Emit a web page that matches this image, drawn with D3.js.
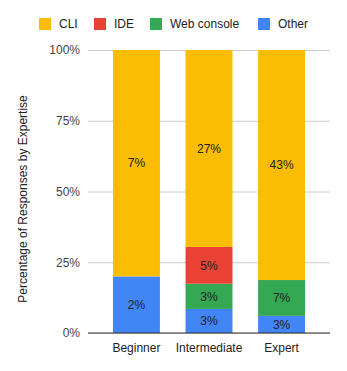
<!DOCTYPE html>
<html><head><meta charset="utf-8">
<script src="https://cdn.jsdelivr.net/npm/d3@7"></script>
<style>body{margin:0;background:#fff;}svg{display:block;font-family:"Liberation Sans",Arial,sans-serif;}</style>
</head><body>
<script>
const categories = ["Beginner", "Intermediate", "Expert"];
const seriesNames = ["CLI", "IDE", "Web console", "Other"];
const seriesColors = ["#FBBC04", "#EA4335", "#34A853", "#4285F4"];
const cliValues = [7.2, 27.0, 43.0];
const ideValues = [0, 5.05, 0];
const webValues = [0, 3.45, 6.7];
const otherValues = [1.8, 3.3, 3.2];
const yTicks = [0, 0.25, 0.5, 0.75, 1];

const W = 347, H = 371;
const m = {left: 88, right: 17, top: 50, bottom: 38};
const svg = d3.select("body").append("svg").attr("width", W).attr("height", H);

const rows = categories.map((c, i) => ({cat: c, "CLI": cliValues[i], "IDE": ideValues[i], "Web console": webValues[i], "Other": otherValues[i]}));
const stackOrder = ["Other", "Web console", "IDE", "CLI"];
const stack = d3.stack().keys(stackOrder).offset(d3.stackOffsetExpand);
const layers = stack(rows);

const x = d3.scaleBand().domain(categories).range([m.left, W - m.right]).paddingInner(0.353).paddingOuter(0.344);
const y = d3.scaleLinear().domain([0, 1]).range([H - m.bottom, m.top]);
const color = d3.scaleOrdinal().domain(seriesNames).range(seriesColors);

// grid
const yAxis = d3.axisLeft(y).tickValues(yTicks).tickFormat(d3.format(".0%")).tickSize(-(W - m.right - m.left)).tickPadding(8);
const ga = svg.append("g").attr("transform", `translate(${m.left},0)`).call(yAxis);
ga.select(".domain").remove();
ga.selectAll(".tick line").attr("stroke", "#cccccc");
ga.selectAll(".tick text").attr("fill", "#444").style("font-size", "12px");

// bars
layers.forEach(layer => {
  const g = svg.append("g").attr("fill", color(layer.key));
  g.selectAll("rect").data(layer.filter(d => d[1] - d[0] > 0)).join("rect")
    .attr("x", d => x(d.data.cat)).attr("width", x.bandwidth())
    .attr("y", d => y(d[1])).attr("height", d => y(d[0]) - y(d[1]));
  svg.append("g").selectAll("text").data(layer.filter(d => d[1] - d[0] > 0)).join("text")
    .attr("x", d => x(d.data.cat) + x.bandwidth() / 2)
    .attr("y", d => (y(d[0]) + y(d[1])) / 2)
    .attr("dy", "0.35em").attr("text-anchor", "middle")
    .attr("fill", "#222").style("font-size", "12px")
    .text(d => Math.round(d.data[layer.key]) + "%");
});

// baseline
svg.append("line").attr("x1", m.left).attr("x2", W - m.right).attr("y1", y(0)).attr("y2", y(0)).attr("stroke", "#333").attr("stroke-width", 1);

// x axis labels
const xa = d3.axisBottom(x).tickSize(0).tickPadding(10);
const gx = svg.append("g").attr("transform", `translate(0,${y(0)})`).call(xa);
gx.select(".domain").remove();
gx.selectAll(".tick text").attr("fill", "#222").style("font-size", "12px");

// y title
svg.append("text").attr("transform", `translate(27,199) rotate(-90)`).attr("text-anchor", "middle")
  .attr("fill", "#222").style("font-size", "12px").text("Percentage of Responses by Expertise");

// legend
const legX = [39, 94, 150, 258];
const leg = svg.append("g");
seriesNames.forEach((s, i) => {
  leg.append("rect").attr("x", legX[i]).attr("y", 18).attr("width", 12).attr("height", 12).attr("fill", seriesColors[i]);
  leg.append("text").attr("x", legX[i] + 20).attr("y", 24).attr("dy", "0.35em").attr("fill", "#222").style("font-size", "12px").text(s);
});
</script>
</body></html>
